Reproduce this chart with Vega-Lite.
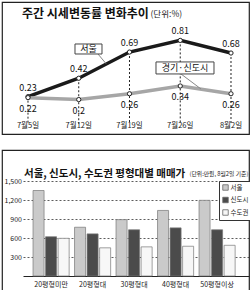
{
  "$schema": "https://vega.github.io/schema/vega-lite/v6.json",
  "padding": {"left": 1, "top": 1, "right": 1, "bottom": 0},
  "background": "white",
  "spacing": 14,
  "resolve": {"scale": {"color": "independent"}, "legend": {"color": "independent"}},
  "config": {
    "font": "Noto Sans CJK KR",
    "view": {"stroke": "#222", "strokeWidth": 1.2}
  },
  "vconcat": [
    {
      "width": 247,
      "height": 132,
      "title": {"text": "주간 시세변동률 변화추이", "anchor": "start", "frame": "group", "dx": 20, "offset": -28, "baseline": "alphabetic", "fontSize": 12, "fontWeight": "bold", "color": "#111"},
      "data": {"values": [
        {"week": 1, "date": "7월5일", "series": "서울", "value": 0.23},
        {"week": 2, "date": "7월12일", "series": "서울", "value": 0.42},
        {"week": 3, "date": "7월19일", "series": "서울", "value": 0.69},
        {"week": 4, "date": "7월26일", "series": "서울", "value": 0.81},
        {"week": 5, "date": "8월2일", "series": "서울", "value": 0.68},
        {"week": 1, "date": "7월5일", "series": "경기·신도시", "value": 0.22},
        {"week": 2, "date": "7월12일", "series": "경기·신도시", "value": 0.2},
        {"week": 3, "date": "7월19일", "series": "경기·신도시", "value": 0.26},
        {"week": 4, "date": "7월26일", "series": "경기·신도시", "value": 0.34},
        {"week": 5, "date": "8월2일", "series": "경기·신도시", "value": 0.26}
      ]},
      "encoding": {
        "x": {"field": "week", "type": "quantitative", "scale": {"domain": [0.4877, 5.3547], "nice": false, "zero": false}, "axis": null},
        "y": {"field": "value", "type": "quantitative", "scale": {"domain": [-0.155, 1.206], "nice": false, "zero": false},
          "axis": {"title": "(단위:%)", "labels": false, "ticks": false, "domain": false, "grid": false, "titleAngle": 0, "titleX": 148, "titleY": 11, "titleAlign": "left", "titleBaseline": "middle", "titleFontSize": 8.5, "titleFontWeight": "normal", "titleColor": "#222"}}
      },
      "layer": [
        {"transform": [{"filter": "datum.series === '서울'"}], "mark": {"type": "rule", "strokeDash": [2, 2], "color": "#222", "strokeWidth": 1}, "encoding": {"y2": {"datum": -0.05}}},
        {"mark": {"type": "line", "strokeWidth": 3.5}, "encoding": {"color": {"field": "series", "type": "nominal", "scale": {"domain": ["서울", "경기·신도시"], "range": ["#1a1a1a", "#a6a6a6"]}, "legend": null}}},
        {"mark": {"type": "point", "filled": true, "fill": "white", "stroke": "#222", "strokeWidth": 1, "size": 18, "opacity": 1}},
        {"transform": [{"filter": "datum.series === '서울'"}], "mark": {"type": "text", "dy": -9, "fontSize": 9, "color": "#111"}, "encoding": {"text": {"field": "value", "type": "quantitative", "format": ".2~f"}}},
        {"transform": [{"filter": "datum.series !== '서울'"}], "mark": {"type": "text", "dy": 11, "fontSize": 9, "color": "#111"}, "encoding": {"text": {"field": "value", "type": "quantitative", "format": ".2~f"}}},
        {"transform": [{"filter": "datum.series === '서울'"}], "mark": {"type": "text", "fontSize": 7.5, "color": "#222"}, "encoding": {"y": {"datum": -0.077}, "text": {"field": "date"}}},
        {"transform": [{"filter": "datum.series === '서울' && datum.week === 1"}], "mark": {"type": "rule", "color": "#888", "strokeWidth": 1}, "encoding": {"x": {"datum": 2.379}, "x2": {"datum": 2.537}, "y": {"datum": 0.67}, "y2": {"datum": 0.571}}},
        {"transform": [{"filter": "datum.series !== '서울' && datum.week === 1"}], "mark": {"type": "rule", "color": "#888", "strokeWidth": 1}, "encoding": {"x": {"datum": 4.015}, "x2": {"datum": 4.409}, "y": {"datum": 0.464}, "y2": {"datum": 0.309}}},
        {"transform": [{"filter": "datum.series === '서울' && datum.week === 1"}], "mark": {"type": "rect", "fill": "white", "stroke": "#444", "strokeWidth": 1}, "encoding": {"x": {"datum": 1.926}, "x2": {"datum": 2.458}, "y": {"datum": 0.773}, "y2": {"datum": 0.67}}},
        {"transform": [{"filter": "datum.series !== '서울' && datum.week === 1"}], "mark": {"type": "rect", "fill": "white", "stroke": "#444", "strokeWidth": 1}, "encoding": {"x": {"datum": 3.522}, "x2": {"datum": 4.665}, "y": {"datum": 0.588}, "y2": {"datum": 0.464}}},
        {"transform": [{"filter": "datum.series === '서울' && datum.week === 1"}], "mark": {"type": "text", "fontSize": 9, "color": "#111"}, "encoding": {"x": {"datum": 2.192}, "y": {"datum": 0.722}, "text": {"field": "series"}}},
        {"transform": [{"filter": "datum.series !== '서울' && datum.week === 1"}], "mark": {"type": "text", "fontSize": 9, "color": "#111"}, "encoding": {"x": {"datum": 4.094}, "y": {"datum": 0.526}, "text": {"field": "series"}}}
      ]
    },
    {
      "width": 247,
      "height": 142,
      "title": {"text": "서울, 신도시, 수도권 평형대별 매매가", "anchor": "start", "frame": "group", "dx": 22, "offset": -37, "baseline": "alphabetic", "fontSize": 10.5, "fontWeight": "bold", "color": "#111"},
      "data": {"values": [
        {"size": "20평형미만", "region": "서울", "price": 1350},
        {"size": "20평형미만", "region": "신도시", "price": 620},
        {"size": "20평형미만", "region": "수도권", "price": 595},
        {"size": "20평형대", "region": "서울", "price": 770},
        {"size": "20평형대", "region": "신도시", "price": 665},
        {"size": "20평형대", "region": "수도권", "price": 445},
        {"size": "30평형대", "region": "서울", "price": 890},
        {"size": "30평형대", "region": "신도시", "price": 730},
        {"size": "30평형대", "region": "수도권", "price": 460},
        {"size": "40평형대", "region": "서울", "price": 1035},
        {"size": "40평형대", "region": "신도시", "price": 760},
        {"size": "40평형대", "region": "수도권", "price": 470},
        {"size": "50평형이상", "region": "서울", "price": 1195},
        {"size": "50평형이상", "region": "신도시", "price": 730},
        {"size": "50평형이상", "region": "수도권", "price": 485}
      ]},
      "mark": {"type": "bar", "stroke": "#777", "strokeWidth": 0.7},
      "encoding": {
        "x": {"field": "size", "type": "nominal", "sort": null,
          "scale": {"range": [21, 247], "paddingInner": 0.13, "paddingOuter": 0.288, "align": 0.42},
          "axis": {"title": null, "orient": "bottom", "offset": -16, "labelAngle": 0, "ticks": false, "labelPadding": 4, "labelFontSize": 7, "labelColor": "#222", "domainColor": "#222", "domainWidth": 1}},
        "xOffset": {"field": "region", "type": "nominal", "sort": ["서울", "신도시", "수도권"], "scale": {"paddingInner": 0.12}},
        "y": {"field": "price", "type": "quantitative", "stack": null,
          "scale": {"domain": [-252.6, 1989.5], "nice": false, "zero": false},
          "axis": {"values": [300, 600, 900, 1200, 1500], "format": ",d", "offset": -21, "domain": false, "ticks": false, "labelPadding": 1.5, "labelFontSize": 7, "labelColor": "#222", "grid": true, "gridDash": [2, 2], "gridColor": "#333", "gridWidth": 0.8,
            "title": "(단위:만원, 8월2일 기준)", "titleAngle": 0, "titleX": 166, "titleY": 23, "titleAlign": "left", "titleBaseline": "middle", "titleFontSize": 5.8, "titleFontWeight": "normal", "titleColor": "#222"}},
        "color": {"field": "region", "type": "nominal", "sort": ["서울", "신도시", "수도권"],
          "scale": {"domain": ["서울", "신도시", "수도권"], "range": ["#cacaca", "#4b4b4b", "#f7f7f7"]},
          "legend": {"title": null, "orient": "none", "legendX": 217, "legendY": 31, "symbolType": "square", "symbolSize": 30, "symbolStrokeColor": "#666", "symbolStrokeWidth": 0.8, "labelFontSize": 6.5, "labelColor": "#222", "strokeColor": "#333", "fillColor": "white", "padding": 3, "rowPadding": 3.5, "labelOffset": 1.5}}
      }
    }
  ]
}
